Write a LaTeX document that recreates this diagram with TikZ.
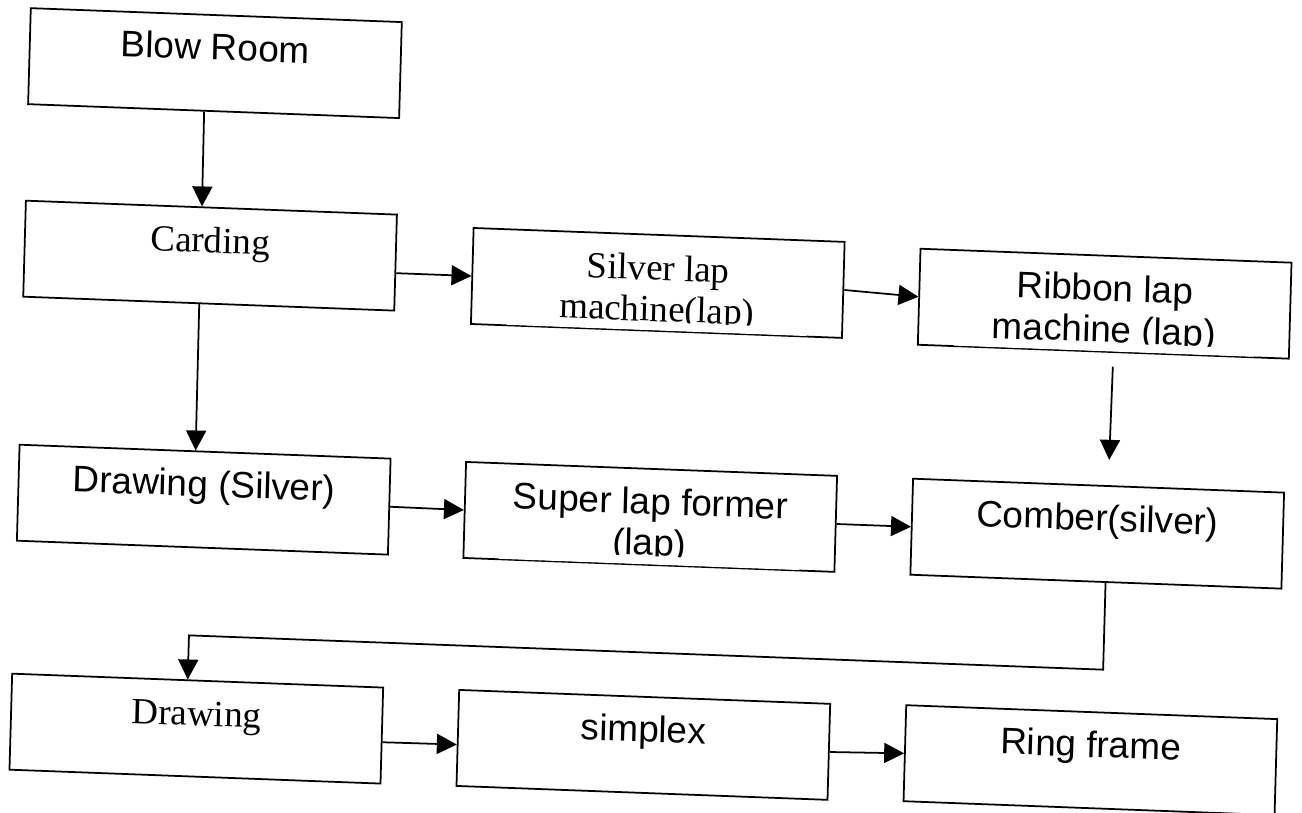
\documentclass[tikz,border=0pt]{standalone}
\usepackage{fontspec}
\setmainfont{Liberation Serif}
\setsansfont{Liberation Sans}
\usetikzlibrary{arrows.meta}

\tikzstyle{box}=[draw,rectangle,line width=1pt,minimum width=7.42cm,minimum height=1.92cm,inner ysep=0pt,align=center,text height=0.5cm,text depth=0.62cm]
\tikzstyle{sans}=[font=\sffamily\fontsize{21}{23.5}\selectfont]
\tikzstyle{serif}=[font=\rmfamily\fontsize{21}{23.5}\selectfont]
\tikzstyle{sans pair}=[sans,text height=1.6cm,text depth=0.06cm]
\tikzstyle{serif pair}=[serif,text height=1.6cm,text depth=0.06cm]
\tikzstyle{arrowdecorate}=[->,>={Triangle[length=0.4cm,width=0.4cm]},line width=1pt]

\begin{document}
\begin{tikzpicture}
\useasboundingbox (0,0) rectangle (26.04,-16.26);
\begin{scope}[cm={1,-0.0375,0.028,1,(0,0)},transform shape]
  %nodes
  \foreach \nodename/\x/\y/\face/\txt in {
    blowroom/4.33/-1.10/sans/Blow Room,
    carding/4.34/-4.95/serif/Carding,
    silverlap/13.30/-5.16/serif pair/{Silver lap\\machine(lap)},
    ribbonlap/22.24/-5.24/sans pair/{Ribbon lap\\machine (lap)},
    drawsilver/4.35/-9.83/sans/Drawing (Silver),
    superlap/13.28/-9.84/sans pair/{Super lap former\\(lap)},
    comber/22.22/-9.84/sans/Comber(silver),
    drawing/4.33/-14.41/serif/Drawing,
    simplex/13.27/-14.40/sans/simplex,
    ringframe/22.21/-14.37/sans/Ring frame}
  {
    \node[box,\face] (\nodename) at (\x,\y) {\txt};
  };
  % second lines are cut off at their baseline
  \foreach \nodename in {silverlap,ribbonlap,superlap}
    \fill[white] ([xshift=-3cm,yshift=0.03cm]\nodename.south) rectangle ([xshift=3cm,yshift=0.195cm]\nodename.south);
  %loose ends
  \coordinate (ribbonout) at ([xshift=0.19cm,yshift=-0.27cm]ribbonlap.south);
  \coordinate (comberin) at ([xshift=0.19cm,yshift=0.51cm]comber.north);
  \coordinate (comberturn) at (22.41,-12.55);
  \coordinate (drawingturn) at (4.13,-12.55);
  %edges
  \path
  \foreach \startnode/\endnode in {
    silverlap.east/ribbonlap.west, drawsilver.east/superlap.west,
    superlap.east/comber.west, simplex.east/ringframe.west, ribbonout/comberin}
  {
    (\startnode) edge[arrowdecorate] (\endnode)
  };
  \path
  \foreach \startnode/\endnode in {blowroom/carding, carding/drawsilver}
  {
    ([xshift=-0.19cm]\startnode.south) edge[arrowdecorate] ([xshift=-0.19cm]\endnode.north)
  };
  \path (carding.east |- silverlap.west) edge[arrowdecorate] (silverlap.west);
  \path ([yshift=-0.13cm]drawing.east) edge[arrowdecorate] ([yshift=-0.13cm]simplex.west);
  \draw[arrowdecorate] ([xshift=0.19cm]comber.south) -- (comberturn) -- (drawingturn) -- ([xshift=-0.2cm]drawing.north);
\end{scope}
\end{tikzpicture}
\end{document}
